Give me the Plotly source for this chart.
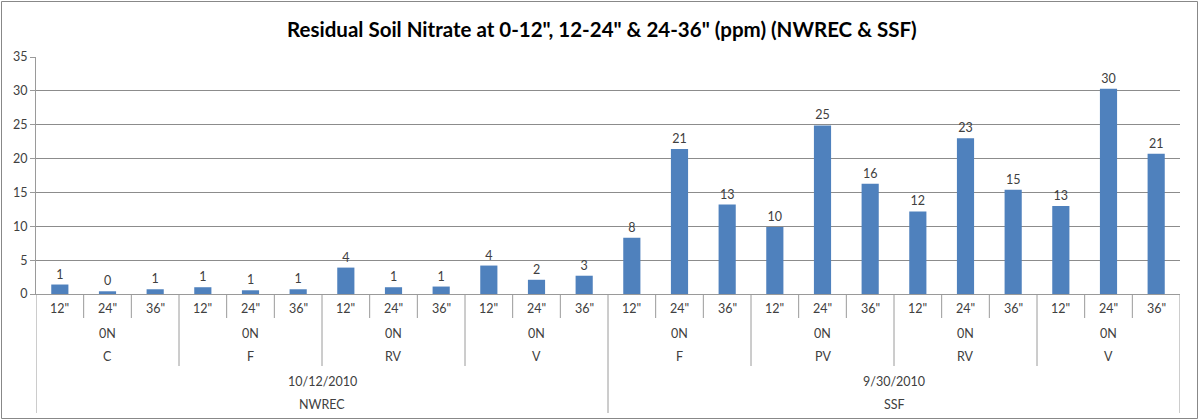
import plotly.graph_objects as go

# ---- data ----
depths = ['12"', '24"', '36"'] * 8
rates = ['0N'] * 8
treatments = ['C', 'F', 'RV', 'V', 'F', 'PV', 'RV', 'V']
dates = ['10/12/2010', '9/30/2010']
sites = ['NWREC', 'SSF']
nitrate = [1.4, 0.4, 0.7, 1.0, 0.55, 0.7, 3.9, 1.0, 1.1, 4.2, 2.1, 2.7,
           8.3, 21.4, 13.2, 9.9, 24.9, 16.3, 12.2, 23.0, 15.4, 13.0, 30.3, 20.7]
y_ticks = [0, 5, 10, 15, 20, 25, 30, 35]

W, H = 1199, 420
ML, MR, MT, MB = 36, 19, 57, 126
PH = H - MT - MB
FONT = "Lato"
TXT = "#404040"
LINE = "#9a9a9a"

x = list(range(len(nitrate)))
fig = go.Figure(go.Bar(
    x=x, y=nitrate, marker=dict(color="#4F81BD", line=dict(width=0)),
    texttemplate="%{y:.0f}", textposition="outside",
    textfont=dict(family=FONT, size=12.5, color=TXT), cliponaxis=False,
))

def py(pix):  # pixel below axis -> paper coordinate
    return -pix / PH

shapes = []
n = len(nitrate)
for i in range(n + 1):
    xv = i - 0.5
    if i % 12 == 0:
        y1 = py(119)
    elif i % 3 == 0:
        y1 = py(72)
    else:
        y1 = py(24)
    shapes.append(dict(type="line", xref="x", yref="paper", x0=xv, x1=xv,
                       y0=0, y1=y1, line=dict(color=LINE, width=1)))
# outer chart border
shapes.append(dict(type="rect", xref="paper", yref="paper",
                   x0=-(ML - 1.5) / (W - ML - MR), x1=1 + (MR - 1.5) / (W - ML - MR),
                   y0=-(MB - 1.5) / PH, y1=1 + (MT - 1.5) / PH,
                   line=dict(color="#888888", width=1)))

ann = []
def lab(xv, ypix, t):
    ann.append(dict(x=xv, y=py(ypix), xref="x", yref="paper", text=t, showarrow=False,
                    font=dict(family=FONT, size=12.5, color=TXT), xanchor="center", yanchor="middle"))
for i, d in enumerate(depths):
    lab(i, 14, d)
for g, (r, t) in enumerate(zip(rates, treatments)):
    lab(3 * g + 1, 39, r)
    lab(3 * g + 1, 62, t)
for k, (d, s) in enumerate(zip(dates, sites)):
    lab(12 * k + 5.5, 87, d)
    lab(12 * k + 5.5, 110, s)

fig.update_layout(
    width=W, height=H, margin=dict(l=ML, r=MR, t=MT, b=MB),
    paper_bgcolor="white", plot_bgcolor="white",
    title=dict(text='<b>Residual Soil Nitrate at 0-12", 12-24" &amp; 24-36" (ppm) (NWREC &amp; SSF)</b>',
               x=0.502, xanchor="center", y=1 - 30 / H, yanchor="middle",
               font=dict(family=FONT, size=20.5, color="#000000")),
    bargap=0.64, showlegend=False,
    xaxis=dict(range=[-0.5, n - 0.5], showticklabels=False, showgrid=False, zeroline=False,
               showline=True, linecolor=LINE, linewidth=1, ticks=""),
    yaxis=dict(range=[0, 35], tickvals=y_ticks, showgrid=True, gridcolor="#8c8c8c", gridwidth=1,
               zeroline=False, showline=True, linecolor=LINE, linewidth=1,
               ticks="outside", ticklen=5, tickcolor=LINE,
               tickfont=dict(family=FONT, size=12.5, color=TXT)),
    shapes=shapes, annotations=ann,
)
fig.write_html("out.html", config={"displayModeBar": False},
               post_script="document.body.style.margin='0';document.body.style.overflow='hidden';")
